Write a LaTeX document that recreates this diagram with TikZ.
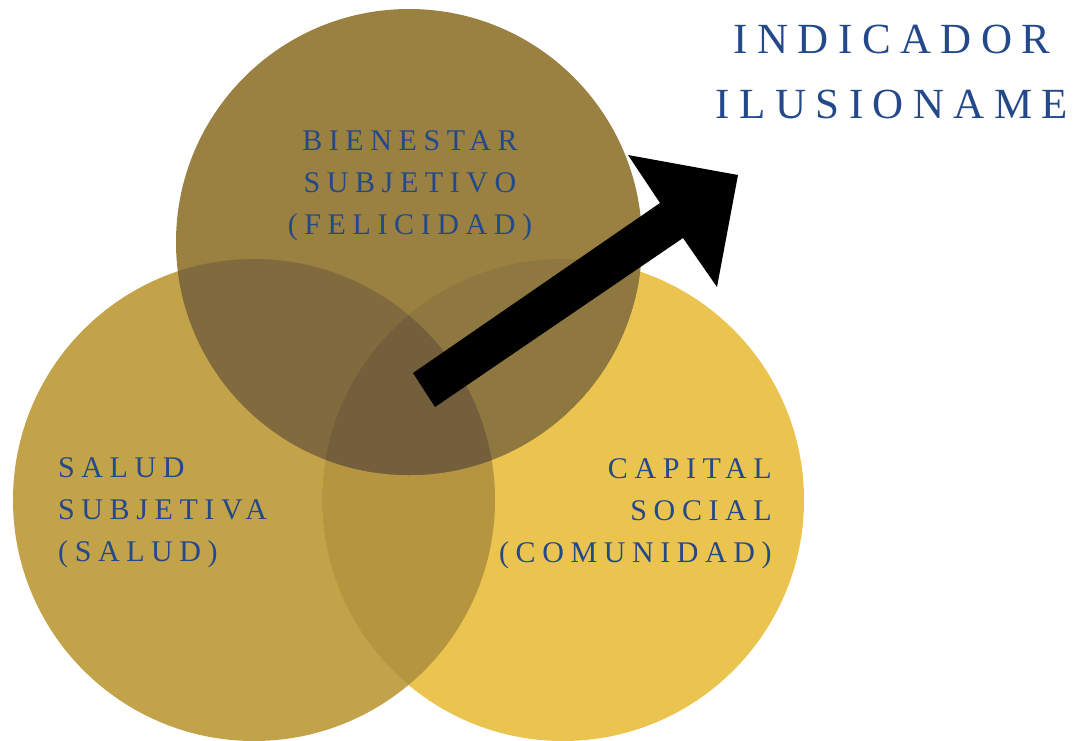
\documentclass[tikz,border=0pt]{standalone}
\usepackage{fontspec}
\setmainfont{Liberation Serif}
\newfontfamily\spacedfont[LetterSpace=22]{Liberation Serif}
\usepackage{tikz}
\usetikzlibrary{positioning}
\definecolor{leftgold}{HTML}{C3A34A}
\definecolor{rightgold}{HTML}{EAC44F}
\definecolor{lrgold}{HTML}{B5953F}
\definecolor{topgold}{HTML}{9A8141}
\definecolor{tlgold}{HTML}{806A3E}
\definecolor{trgold}{HTML}{8E7840}
\definecolor{midgold}{HTML}{735F3B}
\definecolor{labelblue}{HTML}{24498A}
\newcommand{\leftcirc}{(254,500) circle (241)}
\newcommand{\rightcirc}{(563,500) circle (241)}
\newcommand{\topcirc}{(409,242) circle (233)}

\begin{document}
\begin{tikzpicture}[x=1pt,y=-1pt,
  label/.style={inner sep=0pt,text=labelblue,font={\spacedfont\fontsize{30}{42}\selectfont}},
  title/.style={inner sep=0pt,text=labelblue,font={\spacedfont\fontsize{43}{65}\selectfont}}]
\useasboundingbox (0,0) rectangle (1088,740);
% the three circles
\fill[leftgold] \leftcirc;
\fill[rightgold] \rightcirc;
\begin{scope}
\clip \leftcirc;
\fill[lrgold] \rightcirc;
\end{scope}
\fill[topgold] \topcirc;
\begin{scope}
\clip \topcirc;
\fill[tlgold] \leftcirc;
\fill[trgold] \rightcirc;
\clip \leftcirc;
\fill[midgold] \rightcirc;
\end{scope}
%
% the arrow
\fill[black] (413,373) -- (660,203) -- (628,155) -- (738,175)
  -- (717,287) -- (683,238) -- (435,407) -- cycle;
%
\node (felicidad) [label,align=center,anchor=base] at (410,234)
  {BIENESTAR\\SUBJETIVO\\(FELICIDAD)};
\node (salud) [label,align=left,anchor=base west] at (58,561)
  {SALUD\\SUBJETIVA\\(SALUD)};
\node (comunidad) [label,align=right,anchor=base east] at (772,562)
  {CAPITAL\hspace{12pt}\\SOCIAL\\(COMUNIDAD)};
\node (indicador) [title,align=center,anchor=base] at (892,118)
  {INDICADOR\\ILUSIONAME};
\end{tikzpicture}
\end{document}
